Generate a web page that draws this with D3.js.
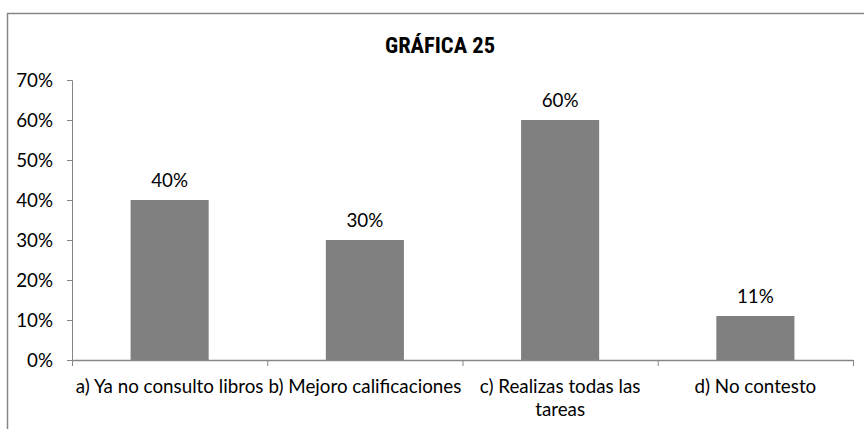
<!DOCTYPE html>
<html>
<head>
<meta charset="utf-8">
<script src="https://cdn.jsdelivr.net/npm/d3@7"></script>
<style>
  body { margin: 0; background: #fff; }
  svg { display: block; font-family: Lato, "Open Sans", sans-serif; }
</style>
</head>
<body>
<svg id="chart"></svg>
<script>
const categories = [
  'a) Ya no consulto libros',
  'b) Mejoro calificaciones',
  'c) Realizas todas las tareas',
  'd) No contesto'
]
const values = [40, 30, 60, 11]
const yTicks = [0, 10, 20, 30, 40, 50, 60, 70]
const title = 'GRÁFICA 25'

const width = 864
const height = 429
const margin = { top: 80, right: 11, bottom: 69, left: 72 }
const innerW = width - margin.left - margin.right
const innerH = height - margin.top - margin.bottom
const fontSize = 18.8

const svg = d3.select('#chart').attr('width', width).attr('height', height)

// outer frame (only left and top visible in the crop)
svg.append('path')
  .attr('d', `M7.5,${height} V13.5 H${width}`)
  .attr('fill', 'none')
  .attr('stroke', '#868686')
  .attr('stroke-width', 1.5)

svg.append('text')
  .attr('x', 440)
  .attr('y', 53)
  .attr('text-anchor', 'middle')
  .attr('font-family', '"Liberation Sans Narrow", "Roboto Condensed", Roboto, sans-serif')
  .attr('font-size', 22.5)
  .attr('font-weight', 'bold')
  .attr('fill', '#000')
  .text(title)

const g = svg.append('g').attr('transform', `translate(${margin.left},${margin.top})`)

const x = d3.scaleBand().domain(categories).range([0, innerW]).padding(0)
const y = d3.scaleLinear().domain([0, 70]).range([innerH, 0])

// y axis
const yAxis = g.append('g')
  .call(d3.axisLeft(y).tickValues(yTicks).tickSize(5).tickFormat(d => d + '%'))
yAxis.select('.domain').attr('stroke', '#868686').attr('d', `M-5,0.5H0.5V${innerH + 0.5}`)
yAxis.selectAll('.tick line').attr('stroke', '#868686')
yAxis.selectAll('.tick text').attr('x', -19).attr('font-size', fontSize).attr('font-family', 'Lato, sans-serif').attr('fill', '#000')

// bars
const barW = x.bandwidth() * 0.4
g.selectAll('.bar')
  .data(values)
  .enter()
  .append('rect')
  .attr('class', 'bar')
  .attr('x', (d, i) => x(categories[i]) + (x.bandwidth() - barW) / 2)
  .attr('y', d => y(d))
  .attr('width', barW)
  .attr('height', d => innerH - y(d))
  .attr('fill', '#808080')

g.selectAll('.val')
  .data(values)
  .enter()
  .append('text')
  .attr('class', 'val')
  .attr('x', (d, i) => x(categories[i]) + x.bandwidth() / 2)
  .attr('y', d => y(d) - 13)
  .attr('text-anchor', 'middle')
  .attr('font-size', fontSize)
  .attr('fill', '#000')
  .text(d => d + '%')

// x axis
const xAxis = g.append('g').attr('transform', `translate(0,${innerH})`)
xAxis.append('line')
  .attr('x1', 0).attr('x2', innerW)
  .attr('y1', 0.5).attr('y2', 0.5)
  .attr('stroke', '#868686').attr('stroke-width', 1.5)
xAxis.selectAll('.xtick')
  .data(categories.map(c => x(c)).concat([innerW]))
  .enter()
  .append('line')
  .attr('x1', d => d + 0.5).attr('x2', d => d + 0.5)
  .attr('y1', 0).attr('y2', 6)
  .attr('stroke', '#868686')

// category labels, wrapped like the original
const labelLines = categories.map(c => c === 'c) Realizas todas las tareas' ? ['c) Realizas todas las', 'tareas'] : [c])
xAxis.selectAll('.xlab')
  .data(categories)
  .enter()
  .append('text')
  .attr('class', 'xlab')
  .attr('text-anchor', 'middle')
  .attr('font-size', fontSize)
  .attr('fill', '#000')
  .each(function (d, i) {
    const t = d3.select(this)
    labelLines[i].forEach((line, j) => {
      t.append('tspan')
        .attr('x', x(d) + x.bandwidth() / 2)
        .attr('y', 33 + j * 23)
        .text(line)
    })
  })
</script>
</body>
</html>
